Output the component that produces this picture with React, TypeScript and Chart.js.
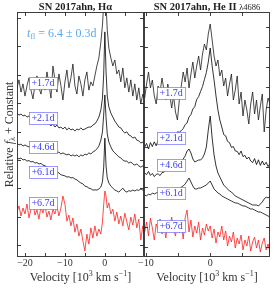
import React, { useEffect, useRef } from 'react';
import { Chart, registerables } from 'chart.js';

Chart.register(...registerables);

const SERIF = '"Liberation Serif", "DejaVu Serif", serif';

// ---------- data ----------
const epochLabels = ['+1.7d', '+2.1d', '+4.6d', '+6.1d', '+6.7d'];
const epochColors = ['#1c1c1c', '#000000', '#000000', '#000000', '#ff1f1f'];

// H-alpha panel: velocity in 10^3 km/s
const haVelocity = [-22, -21.5, -21, -20.5, -20, -19.5, -19, -18.5, -18, -17.5, -17, -16.5, -16, -15.5, -15, -14.5, -14, -13.5, -13, -12.5, -12, -11.5, -11, -10.5, -10, -9.5, -9, -8.5, -8, -7.5, -7, -6.5, -6, -5.5, -5, -4.5, -4, -3.5, -3, -2.5, -2, -1.5, -1, -0.6, -0.3, 0, 0.3, 0.6, 1, 1.5, 2, 2.5, 3, 3.5, 4, 4.5, 5, 5.5, 6, 6.5, 7, 7.5, 8, 8.5, 9, 9.5, 10];

const haFlux17 = [5.54, 5.82, 5.39, 5.68, 5.25, 5.61, 5.89, 5.46, 5.15, 5.64,
  5.96, 5.54, 5.32, 5.75, 5.46, 6.10, 5.68, 5.18, 6.31, 5.82,
  5.39, 6.03, 5.61, 5.11, 5.75, 6.17, 5.54, 5.89, 6.38, 5.61,
  5.32, 5.96, 5.68, 5.25, 5.82, 6.10, 5.46, 5.75, 5.61, 5.96,
  6.31, 6.59, 7.15, 7.75, 8.46, 8.99, 8.46, 7.58, 6.94, 6.59, 6.31,
  6.52, 6.03, 6.17, 5.75, 6.24, 5.54, 5.89, 5.39, 5.82, 5.25, 5.68, 5.11, 5.54, 4.97, 5.32, 5.11];

const haFlux21 = [4.65, 4.58, 4.62, 4.55, 4.58, 4.51, 4.55, 4.48, 4.44, 4.48,
  4.41, 4.37, 4.41, 4.30, 4.34, 4.27, 4.30, 4.20, 4.27, 4.16,
  4.23, 4.13, 4.16, 4.09, 4.16, 4.06, 4.13, 4.06, 4.09, 4.02,
  4.09, 4.06, 4.13, 4.06, 4.09, 4.13, 4.16, 4.16, 4.23, 4.27,
  4.37, 4.51, 4.76, 5.18, 5.99, 7.51, 6.10, 5.25, 4.87, 4.65, 4.51,
  4.37, 4.27, 4.16, 4.13, 4.02, 3.95, 3.99, 3.88, 3.85, 3.77, 3.81, 3.70, 3.67, 3.60, 3.63, 3.53];

const haFlux46 = [3.60, 3.53, 3.56, 3.49, 3.53, 3.49, 3.46, 3.49, 3.42, 3.46,
  3.39, 3.42, 3.35, 3.39, 3.35, 3.32, 3.35, 3.28, 3.32, 3.28,
  3.25, 3.28, 3.21, 3.25, 3.21, 3.18, 3.21, 3.14, 3.18, 3.14,
  3.18, 3.11, 3.18, 3.14, 3.21, 3.18, 3.25, 3.21, 3.28, 3.32,
  3.39, 3.49, 3.70, 3.99, 4.58, 5.29, 4.48, 3.92, 3.63, 3.46, 3.32,
  3.25, 3.18, 3.11, 3.07, 3.00, 2.96, 2.96, 2.89, 2.93, 2.86, 2.82, 2.86, 2.79, 2.75, 2.79, 2.72];

const haFlux61 = [3.07, 3.04, 3.07, 3.00, 3.02, 2.96, 2.98, 2.93, 2.95, 2.89,
  2.91, 2.86, 2.88, 2.82, 2.80, 2.75, 2.73, 2.68, 2.66, 2.61,
  2.59, 2.54, 2.48, 2.46, 2.44, 2.40, 2.41, 2.37, 2.38, 2.33,
  2.30, 2.24, 2.19, 2.16, 2.08, 2.06, 2.01, 1.99, 1.94, 1.95,
  1.94, 1.98, 2.05, 2.23, 2.72, 3.77, 2.79, 2.37, 2.19, 2.08, 2.01,
  1.94, 1.91, 1.87, 1.94, 2.01, 1.91, 1.87, 1.92, 1.90, 1.94, 1.91, 1.95, 1.93, 1.98, 1.94, 1.94];

const haFlux67 = [1.17, 1.38, 1.03, 1.31, 1.10, 1.45, 0.96, 1.27, 1.49, 1.06,
  1.24, 0.92, 1.35, 1.13, 1.42, 0.99, 1.20, 0.89, 1.27, 1.10,
  1.38, 1.03, 1.31, 1.73, 1.45, 0.85, 1.06, 0.68, 0.96, 0.46,
  0.75, 0.32, 0.57, 0.15, -0.20, 0.39, 0.04, 0.61, 0.25, 0.68,
  0.32, 0.57, 0.39, 0.82, 1.42, 1.91, 1.73, 1.31, 1.49, 1.10, 1.27,
  0.85, 1.17, 0.75, 1.03, 0.68, 1.13, 0.82, 0.54, 0.99, 0.71, 1.10, 0.61, 0.92, 0.18, 0.68, 0.32];

// He II 4686 panel
const heVelocity = [-10.2, -9.9, -9.6, -9.3, -9.0, -8.7, -8.4, -8.1, -7.8, -7.5, -7.2, -6.9, -6.6, -6.3, -6.0, -5.7, -5.4, -5.1, -4.8, -4.5, -4.2, -3.9, -3.6, -3.3, -3.0, -2.7, -2.4, -2.1, -1.8, -1.5, -1.2, -0.9, -0.6, -0.3, 0, 0.3, 0.6, 0.9, 1.2, 1.5, 1.8, 2.1, 2.4, 2.7, 3.0, 3.3, 3.6, 3.9, 4.2, 4.5, 4.8, 5.1, 5.4, 5.7, 6.0, 6.3, 6.6, 6.9, 7.2, 7.5, 7.8, 8.1, 8.4, 8.7, 9.0, 9.3];

const heFlux17 = [7.45, 8.15, 8.75, 7.95, 8.35, 7.55, 7.15, 8.05, 7.75, 8.45,
  7.85, 7.35, 8.15, 7.65, 6.95, 7.55, 6.75, 6.35, 7.35, 8.05,
  8.75, 8.25, 8.95, 7.95, 8.65, 9.25, 8.45, 9.05, 9.55, 8.85,
  9.65, 10.15, 9.85, 10.65,
  11.15,
  10.35, 9.55, 9.05, 9.35, 8.55, 8.85, 8.05, 8.45, 7.55, 8.15,
  8.65, 7.35, 7.85, 8.55, 7.15, 7.75, 6.55, 7.35, 6.85, 6.15,
  7.15, 7.75, 6.65, 7.35, 6.35, 7.05, 7.65, 5.75, 6.85, 7.45,
  7.15];

const heFlux21 = [5.00, 5.18, 4.90, 5.22, 5.02, 5.26, 5.06, 5.34, 5.16, 5.40,
  5.22, 5.46, 5.30, 5.56, 5.42, 5.66, 5.50, 5.76, 5.74, 5.82,
  5.92, 6.12, 6.20, 6.50, 6.62, 6.90, 7.02, 7.38, 7.52, 7.78,
  8.02, 8.38, 8.72, 9.25,
  9.95,
  9.05, 8.35, 7.55, 6.85, 6.35, 6.00, 5.62, 5.56, 5.28, 5.22,
  4.98, 5.02, 4.80, 4.78, 4.62, 4.80, 4.52, 4.58, 4.40, 4.50,
  4.30, 4.22, 4.42, 4.12, 4.36, 4.08, 4.30, 4.10, 4.24, 4.02,
  4.18];

const heFlux46 = [3.70, 3.62, 3.78, 3.58, 3.68, 3.52, 3.63, 3.66, 3.57, 3.72,
  3.74, 3.88, 3.87, 3.98, 3.97, 4.08, 4.07, 4.18, 4.17, 4.28,
  4.40, 4.55, 4.80, 4.90, 4.70, 4.40, 4.25, 4.30, 4.35, 4.35,
  4.45, 4.65, 5.00, 5.85,
  6.55,
  5.45, 4.60, 4.05, 3.70, 3.50, 3.30, 3.10, 3.00, 2.90, 2.80,
  2.75, 2.65, 2.55, 2.50, 2.45, 2.40, 2.35, 2.30, 2.25, 2.20,
  2.15, 2.10, 2.10, 2.10, 2.05, 2.15, 2.25, 2.40, 2.50, 2.45,
  2.55];

const heFlux61 = [2.60, 2.55, 2.65, 2.60, 2.70, 2.65, 2.70, 2.75, 2.70, 2.80,
  2.75, 2.80, 2.85, 2.80, 2.85, 2.90, 2.85, 2.95, 2.90, 3.00,
  3.05, 3.15, 3.30, 3.45, 3.25, 3.05, 2.90, 2.90, 2.95, 2.95,
  3.00, 3.05, 3.10, 3.20,
  3.30,
  3.10, 2.90, 2.80, 2.70, 2.65, 2.55, 2.50, 2.45, 2.40, 2.35,
  2.30, 2.25, 2.20, 2.20, 2.15, 2.10, 2.05, 2.05, 2.00, 1.95,
  1.90, 1.90, 1.85, 1.80, 1.75, 1.75, 1.70, 1.65, 1.60, 1.55,
  1.50];

const heFlux67 = [0.75, 1.25, 0.55, 1.45, 0.95, 0.35, 1.15, 0.85, 1.40, 0.65,
  1.05, 0.45, 1.20, 0.80, 1.50, 0.90, 0.55, 1.30, 0.70, 1.10,
  0.40, 1.45, 1.85, 0.75, 1.35, 0.50, 1.05, 0.70, 1.25, 0.35,
  0.95, 0.60, 1.15, 0.80,
  1.05,
  0.45, 0.90, 0.20, 0.75, 0.50, 1.05, 0.35, 0.80, 0.05, 0.55,
  0.25, 0.75, -0.05, 0.45, 0.15, 0.60, -0.15, 0.35, 0.05, 0.55,
  -0.20, 0.25, 0.50, -0.05, 0.35, -0.25, 0.20, 0.45, -0.15, 0.15,
  -0.25];

// epoch label anchors (data coordinates)
const haLabelVelocity = -15.5;
const haLabelFlux = [5.71, 4.48, 3.46, 2.58, 1.49];
const heLabelVelocity = -6.07;
const heLabelFlux = [7.70, 5.45, 4.10, 2.70, 1.05];

// flash-timescale note
const noteVelocity = -19.5;
const noteFlux = 7.43;
const noteText = ' = 6.4 \u00b1 0.3d';

type Panel = {
  velocity: number[];
  fluxes: number[][];
  xMin: number; xMax: number; yMin: number; yMax: number;
  labelV: number; labelF: number[];
  title: string; titleSuffix: string; titleShift: number;
  yTitle: boolean; note: boolean;
};

const haPanel: Panel = {
  velocity: haVelocity,
  fluxes: [haFlux17, haFlux21, haFlux46, haFlux61, haFlux67],
  xMin: -22, xMax: 9.8, yMin: -0.415, yMax: 8.21,
  labelV: haLabelVelocity, labelF: haLabelFlux,
  title: 'SN 2017ahn, H\u03b1', titleSuffix: '', titleShift: -5,
  yTitle: true, note: true,
};

const hePanel: Panel = {
  velocity: heVelocity,
  fluxes: [heFlux17, heFlux21, heFlux46, heFlux61, heFlux67],
  xMin: -10.3, xMax: 9.3, yMin: -0.5, yMax: 11.75,
  labelV: heLabelVelocity, labelF: heLabelFlux,
  title: 'SN 2017ahn, He II ', titleSuffix: '\u03bb4686', titleShift: 0,
  yTitle: false, note: false,
};

type Run = { text: string; font: string; dy?: number };

function drawRuns(ctx: CanvasRenderingContext2D, runs: Run[], x: number, y: number, align: 'left' | 'center') {
  let total = 0;
  runs.forEach((r) => { ctx.font = r.font; total += ctx.measureText(r.text).width; });
  let cx = align === 'center' ? x - total / 2 : x;
  ctx.textAlign = 'left';
  runs.forEach((r) => {
    ctx.font = r.font;
    ctx.fillText(r.text, cx, y + (r.dy || 0));
    cx += ctx.measureText(r.text).width;
  });
}

function decorPlugin(p: Panel) {
  return {
    id: 'panelDecor',
    afterDatasetsDraw(chart: any) {
      const ctx: CanvasRenderingContext2D = chart.ctx;
      const a = chart.chartArea;
      const xs = chart.scales.x;
      const ys = chart.scales.y;
      ctx.save();
      // frame
      ctx.strokeStyle = '#2a2a2a';
      ctx.lineWidth = 0.9;
      ctx.strokeRect(Math.round(a.left) + 0.5, Math.round(a.top) + 0.5, Math.round(a.right - a.left) - 1, Math.round(a.bottom - a.top) - 1);
      // inward ticks
      ctx.beginPath();
      for (let v = Math.ceil(p.xMin / 5) * 5; v <= p.xMax; v += 5) {
        const px = Math.round(xs.getPixelForValue(v)) + 0.5;
        ctx.moveTo(px, a.bottom); ctx.lineTo(px, a.bottom - 4);
        ctx.moveTo(px, a.top); ctx.lineTo(px, a.top + 4);
      }
      for (let f = Math.ceil(p.yMin); f <= p.yMax; f += 1) {
        const py = Math.round(ys.getPixelForValue(f)) + 0.5;
        ctx.moveTo(a.left, py); ctx.lineTo(a.left + 4, py);
        ctx.moveTo(a.right, py); ctx.lineTo(a.right - 4, py);
      }
      ctx.stroke();

      // epoch labels
      ctx.font = `10px ${SERIF}`;
      p.labelF.forEach((f, i) => {
        const cx = xs.getPixelForValue(p.labelV);
        const cy = ys.getPixelForValue(f);
        const w = ctx.measureText(epochLabels[i]).width + 5;
        const h = 12;
        const x0 = Math.round(cx - w / 2) + 0.5;
        const y0 = Math.round(cy - h / 2) + 0.5;
        ctx.fillStyle = '#ffffff';
        ctx.fillRect(x0, y0, w, h);
        ctx.strokeStyle = 'rgba(90,90,255,0.75)';
        ctx.lineWidth = 0.8;
        ctx.strokeRect(x0, y0, w, h);
        ctx.fillStyle = '#3c3cf0';
        ctx.textAlign = 'center';
        ctx.textBaseline = 'middle';
        ctx.fillText(epochLabels[i], cx, cy + 0.5);
      });

      // note
      if (p.note) {
        ctx.fillStyle = '#5aa9f2';
        ctx.textBaseline = 'middle';
        drawRuns(ctx, [
          { text: 't', font: `italic 12px ${SERIF}` },
          { text: 'fl', font: `8px ${SERIF}`, dy: 3 },
          { text: noteText, font: `12px ${SERIF}` },
        ], xs.getPixelForValue(noteVelocity), ys.getPixelForValue(noteFlux), 'left');
      }

      // panel title
      ctx.fillStyle = '#222';
      ctx.textBaseline = 'alphabetic';
      const tc = (a.left + a.right) / 2 + p.titleShift;
      const runs: Run[] = [{ text: p.title, font: `bold 10.5px ${SERIF}` }];
      if (p.titleSuffix) runs.push({ text: p.titleSuffix, font: `8.5px ${SERIF}` });
      drawRuns(ctx, runs, tc, 10, 'center');

      // x title
      ctx.fillStyle = '#333';
      drawRuns(ctx, [
        { text: 'Velocity [10', font: `12px ${SERIF}` },
        { text: '3', font: `8px ${SERIF}`, dy: -5 },
        { text: ' km s', font: `12px ${SERIF}` },
        { text: '\u22121', font: `8px ${SERIF}`, dy: -5 },
        { text: ']', font: `12px ${SERIF}` },
      ], (a.left + a.right) / 2, 281, 'center');

      // y title
      if (p.yTitle) {
        ctx.save();
        ctx.translate(10, (a.top + a.bottom) / 2);
        ctx.rotate(-Math.PI / 2);
        ctx.textBaseline = 'middle';
        drawRuns(ctx, [
          { text: 'Relative ', font: `12px ${SERIF}` },
          { text: 'f', font: `italic 12px ${SERIF}` },
          { text: '\u03bb', font: `8px ${SERIF}`, dy: 3 },
          { text: ' + Constant', font: `12px ${SERIF}` },
        ], 0, 0, 'center');
        ctx.restore();
      }
      ctx.restore();
    },
  };
}

function makeChart(canvas: HTMLCanvasElement, p: Panel, pad: { left: number; right: number; top: number; bottom: number }) {
  return new Chart(canvas, {
    type: 'line',
    data: {
      datasets: p.fluxes.map((f, i) => ({
        label: epochLabels[i],
        data: p.velocity.map((v, j) => ({ x: v, y: f[j] })),
        borderColor: epochColors[i],
        borderWidth: 0.8,
        pointRadius: 0,
        fill: false,
        tension: 0,
      })),
    },
    options: {
      responsive: false,
      animation: false,
      devicePixelRatio: 1,
      layout: { padding: pad },
      plugins: { legend: { display: false }, tooltip: { enabled: false }, title: { display: false } },
      scales: {
        x: {
          type: 'linear',
          min: p.xMin,
          max: p.xMax,
          grid: { display: false, drawTicks: false },
          border: { display: false },
          ticks: {
            stepSize: 5,
            includeBounds: false,
            autoSkip: false,
            maxRotation: 0,
            padding: 0,
            color: '#333',
            font: { family: SERIF, size: 10 },
            callback: (val: any) => {
              const n = Number(val);
              if (Math.abs(n % 10) > 1e-6) return '';
              return n < 0 ? '\u2212' + Math.abs(n) : String(n);
            },
          },
        },
        y: {
          type: 'linear',
          display: false,
          min: p.yMin,
          max: p.yMax,
        },
      },
    } as any,
    plugins: [decorPlugin(p)],
  });
}

export default function App() {
  const leftRef = useRef<HTMLCanvasElement>(null);
  const rightRef = useRef<HTMLCanvasElement>(null);

  useEffect(() => {
    const c1 = makeChart(leftRef.current!, haPanel, { left: 17, right: 6, top: 12, bottom: 19 });
    const c2 = makeChart(rightRef.current!, hePanel, { left: 24, right: 4, top: 12, bottom: 19 });
    return () => { c1.destroy(); c2.destroy(); };
  }, []);

  return (
    <div style={{ position: 'fixed', left: 0, top: 0, width: 274, height: 288, background: '#fff' }}>
      <canvas ref={leftRef} width={150} height={288} style={{ position: 'absolute', left: 0, top: 0 }} />
      <canvas ref={rightRef} width={154} height={288} style={{ position: 'absolute', left: 120, top: 0 }} />
    </div>
  );
}
